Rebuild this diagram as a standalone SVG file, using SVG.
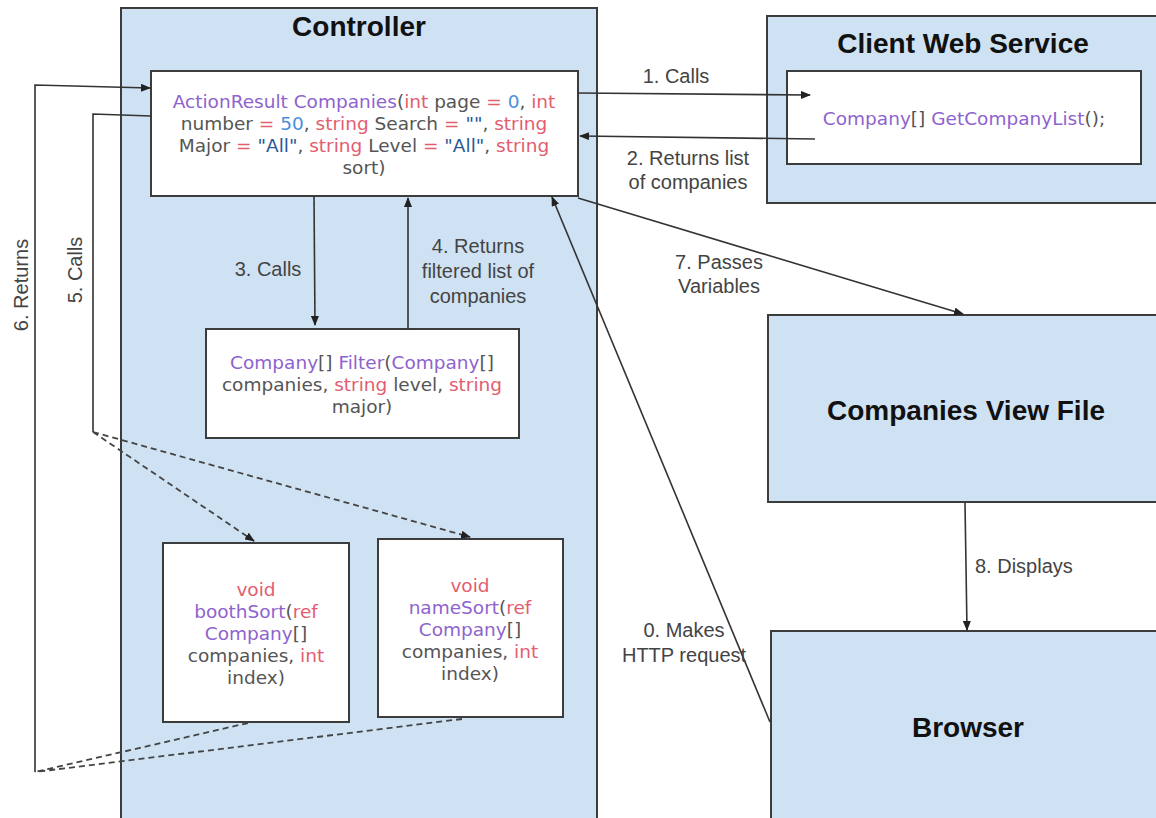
<svg xmlns="http://www.w3.org/2000/svg" width="1156" height="818" viewBox="0 0 1156 818">
<style>
.blue{fill:#cfe2f3;stroke:#3c3c3c;stroke-width:2}
.white{fill:#ffffff;stroke:#3c3c3c;stroke-width:2}
.title{font-family:"Liberation Sans",Arial,sans-serif;font-weight:bold;font-size:28px;fill:#111;text-anchor:middle}
.code{font-family:"DejaVu Sans",Verdana,sans-serif;font-size:18.5px;fill:#555;text-anchor:middle}
.lbl{font-family:"Liberation Sans",Arial,sans-serif;font-size:20px;fill:#444;text-anchor:middle}
.p{fill:#8e63ce}
.r{fill:#e35d6f}
.n{fill:#4a8fe0}
.s{fill:#2b5797}
.ln{fill:none;stroke:#333;stroke-width:1.6}
.dash{fill:none;stroke:#444;stroke-width:1.8;stroke-dasharray:6 4}
</style>
<defs>
<marker id="ah" markerWidth="10" markerHeight="8" refX="9" refY="4" orient="auto" markerUnits="userSpaceOnUse">
<path d="M0,0 L10,4 L0,8 z" fill="#222"/>
</marker>
</defs>
<rect width="1156" height="818" fill="#ffffff"/>

<g id="controller">
<rect class="blue" x="121" y="8" width="476" height="830"/>
<text class="title" x="359" y="36">Controller</text>
</g>

<g id="client-web-service">
<rect class="blue" x="767" y="16" width="400" height="187"/>
<text class="title" x="963" y="53">Client Web Service</text>
</g>

<g id="get-company-list">
<rect class="white" x="787" y="71" width="354" height="93"/>
<text class="code" x="964" y="125"><tspan class="p">Company</tspan>[] <tspan class="p">GetCompanyList</tspan>();</text>
</g>

<g id="companies-action">
<rect class="white" x="151" y="71" width="427" height="125"/>
<text class="code" x="364" y="108"><tspan class="p">ActionResult Companies</tspan>(<tspan class="r">int</tspan> page <tspan class="r">=</tspan> <tspan class="n">0</tspan>, <tspan class="r">int</tspan></text>
<text class="code" x="364" y="130">number <tspan class="r">=</tspan> <tspan class="n">50</tspan>, <tspan class="r">string</tspan> Search <tspan class="r">=</tspan> <tspan class="s">""</tspan>, <tspan class="r">string</tspan></text>
<text class="code" x="364" y="152">Major <tspan class="r">=</tspan> <tspan class="s">"All"</tspan>, <tspan class="r">string</tspan> Level <tspan class="r">=</tspan> <tspan class="s">"All"</tspan>, <tspan class="r">string</tspan></text>
<text class="code" x="364" y="174">sort)</text>
</g>

<g id="filter">
<rect class="white" x="206" y="329" width="313" height="109"/>
<text class="code" x="362" y="369"><tspan class="p">Company</tspan>[] <tspan class="p">Filter</tspan>(<tspan class="p">Company</tspan>[]</text>
<text class="code" x="362" y="391">companies, <tspan class="r">string</tspan> level, <tspan class="r">string</tspan></text>
<text class="code" x="362" y="413">major)</text>
</g>

<g id="booth-sort">
<rect class="white" x="163" y="543" width="186" height="179"/>
<text class="code" x="256" y="596"><tspan class="r">void</tspan></text>
<text class="code" x="256" y="618"><tspan class="p">boothSort</tspan>(<tspan class="r">ref</tspan></text>
<text class="code" x="256" y="640"><tspan class="p">Company</tspan>[]</text>
<text class="code" x="256" y="662">companies, <tspan class="r">int</tspan></text>
<text class="code" x="256" y="684">index)</text>
</g>

<g id="name-sort">
<rect class="white" x="378" y="539" width="185" height="178"/>
<text class="code" x="470" y="592"><tspan class="r">void</tspan></text>
<text class="code" x="470" y="614"><tspan class="p">nameSort</tspan>(<tspan class="r">ref</tspan></text>
<text class="code" x="470" y="636"><tspan class="p">Company</tspan>[]</text>
<text class="code" x="470" y="658">companies, <tspan class="r">int</tspan></text>
<text class="code" x="470" y="680">index)</text>
</g>

<g id="companies-view-file">
<rect class="blue" x="768" y="315" width="400" height="187"/>
<text class="title" x="966" y="420">Companies View File</text>
</g>

<g id="browser">
<rect class="blue" x="771" y="631" width="400" height="200"/>
<text class="title" x="968" y="737">Browser</text>
</g>

<g id="connectors">
<line class="ln" x1="578" y1="93" x2="810" y2="95" marker-end="url(#ah)"/>
<text class="lbl" x="676" y="83">1. Calls</text>
<line class="ln" x1="815" y1="139" x2="580" y2="136" marker-end="url(#ah)"/>
<text class="lbl" x="688" y="165">2. Returns list</text>
<text class="lbl" x="688" y="189">of companies</text>

<line class="ln" x1="314" y1="196" x2="315" y2="325" marker-end="url(#ah)"/>
<text class="lbl" x="268" y="276">3. Calls</text>
<line class="ln" x1="408" y1="329" x2="408" y2="198" marker-end="url(#ah)"/>
<text class="lbl" x="478" y="253">4. Returns</text>
<text class="lbl" x="478" y="278">filtered list of</text>
<text class="lbl" x="478" y="303">companies</text>

<polyline class="ln" points="151,116 93,114 93,432"/>
<line class="dash" x1="93" y1="432" x2="254" y2="541" marker-end="url(#ah)"/>
<line class="dash" x1="93" y1="432" x2="470" y2="537" marker-end="url(#ah)"/>
<text class="lbl" transform="translate(82,270) rotate(-90)" x="0" y="0">5. Calls</text>

<line class="dash" x1="248" y1="723" x2="35" y2="772"/>
<line class="dash" x1="462" y1="719" x2="35" y2="772"/>
<polyline class="ln" points="35,772 35,85 150,88" marker-end="url(#ah)"/>
<text class="lbl" transform="translate(28,285) rotate(-90)" x="0" y="0">6. Returns</text>

<line class="ln" x1="578" y1="198" x2="963" y2="314" marker-end="url(#ah)"/>
<text class="lbl" x="719" y="269">7. Passes</text>
<text class="lbl" x="719" y="293">Variables</text>

<line class="ln" x1="965" y1="503" x2="967" y2="630" marker-end="url(#ah)"/>
<text class="lbl" x="975" y="573" style="text-anchor:start">8. Displays</text>

<line class="ln" x1="770" y1="722" x2="552" y2="197" marker-end="url(#ah)"/>
<text class="lbl" x="684" y="637">0. Makes</text>
<text class="lbl" x="684" y="662">HTTP request</text>
</g>
</svg>
